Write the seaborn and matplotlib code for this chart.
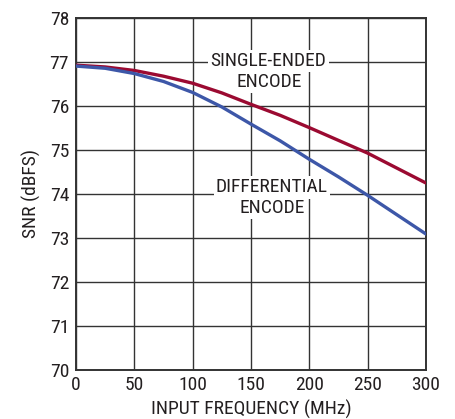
import matplotlib
matplotlib.use("Agg")
import matplotlib.pyplot as plt
import seaborn as sns
import pandas as pd

freq_mhz = [0, 25, 50, 75, 100, 125, 150, 175, 200, 225, 250, 275, 300]
snr_single_ended = [76.92, 76.88, 76.80, 76.67, 76.51, 76.29, 76.03, 75.78, 75.50, 75.21, 74.92, 74.58, 74.24]
snr_differential = [76.90, 76.85, 76.73, 76.55, 76.30, 75.97, 75.58, 75.20, 74.78, 74.38, 73.96, 73.52, 73.08]

x_ticks = [0, 50, 100, 150, 200, 250, 300]
y_ticks = [70, 71, 72, 73, 74, 75, 76, 77, 78]

sns.set_theme(style="white")
plt.rcParams['font.family'] = ['Liberation Sans Narrow', 'Roboto Condensed', 'Archivo Narrow', 'DejaVu Sans']

df = pd.DataFrame({
    "freq": freq_mhz * 2,
    "snr": snr_single_ended + snr_differential,
    "series": ["SINGLE-ENDED"] * len(freq_mhz) + ["DIFFERENTIAL"] * len(freq_mhz),
})

fig = plt.figure(figsize=(4.56, 4.19), dpi=100)
ax = fig.add_axes([76/456, 1 - 369.5/419, 350/456, (369.5-17.7)/419])

sns.lineplot(data=df, x="freq", y="snr", hue="series",
             palette={"SINGLE-ENDED": "#9b0a31", "DIFFERENTIAL": "#3d57a8"},
             linewidth=2.4, legend=False, ax=ax, zorder=3)

ax.set_xlim(0, 300)
ax.set_ylim(70, 78)
ax.set_xticks(x_ticks)
ax.set_yticks(y_ticks)
ax.grid(True, color="#333333", linewidth=1.0)
ax.set_axisbelow(True)
for s in ax.spines.values():
    s.set_color("#333333")
    s.set_linewidth(1.4)
ax.tick_params(axis="both", length=0, labelsize=14, colors="#231f20", pad=5)
ax.set_xlabel("INPUT FREQUENCY (MHz)", fontsize=14, color="#231f20", labelpad=4)
ax.set_ylabel("SNR (dBFS)", fontsize=14, color="#231f20", labelpad=6)

box = dict(facecolor="white", edgecolor="none", pad=1.5)
labels = [
    (165, 77.02, "SINGLE-ENDED"),
    (165.5, 76.54, "ENCODE"),
    (168, 74.14, "DIFFERENTIAL"),
    (168, 73.67, "ENCODE"),
]
for lx, ly, lt in labels:
    ax.text(lx, ly, lt, ha="center", va="center", fontsize=14,
            color="#231f20", bbox=box, zorder=4)

fig.savefig("out.png", dpi=100)
